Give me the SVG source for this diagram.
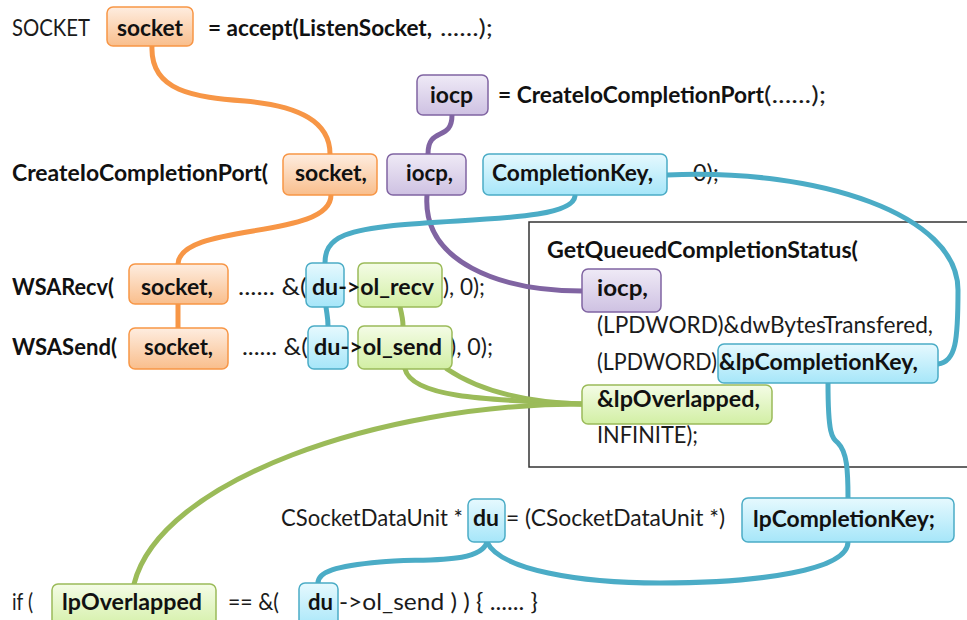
<svg xmlns="http://www.w3.org/2000/svg" width="967" height="620" viewBox="0 0 967 620">
<defs>
<linearGradient id="gO" x1="0" y1="0" x2="0" y2="1"><stop offset="0" stop-color="#FEEDE0"/><stop offset="1" stop-color="#F9BE8C"/></linearGradient>
<linearGradient id="gP" x1="0" y1="0" x2="0" y2="1"><stop offset="0" stop-color="#EFEAF6"/><stop offset="1" stop-color="#CEC1E2"/></linearGradient>
<linearGradient id="gC" x1="0" y1="0" x2="0" y2="1"><stop offset="0" stop-color="#E6F9FE"/><stop offset="1" stop-color="#A6E6F9"/></linearGradient>
<linearGradient id="gG" x1="0" y1="0" x2="0" y2="1"><stop offset="0" stop-color="#F4FCE6"/><stop offset="1" stop-color="#D2EFA4"/></linearGradient>
</defs>
<style>
text{font-family:Lato,"Open Sans","Liberation Sans",sans-serif;font-size:23px;fill:#1b1b1b}
.b{font-weight:700;fill:#111}
.o{fill:url(#gO);stroke:#F79646;stroke-width:1.5}
.p{fill:url(#gP);stroke:#8064A2;stroke-width:1.5}
.c{fill:url(#gC);stroke:#4BACC6;stroke-width:1.5}
.g{fill:url(#gG);stroke:#9BBB59;stroke-width:1.5}
.lo,.lp,.lc,.lg{fill:none;stroke-width:5;stroke-linecap:round}
.lo{stroke:#F79646}.lp{stroke:#8064A2}.lc{stroke:#4BACC6}.lg{stroke:#9BBB59}
</style>
<rect id="gqcs-frame" x="529" y="222" width="450" height="245" fill="none" stroke="#333" stroke-width="1.5"/>
<g id="code-text">
<text x="12" y="36" textLength="78" lengthAdjust="spacingAndGlyphs">SOCKET</text>
<text class="b" x="208" y="36" textLength="224" lengthAdjust="spacingAndGlyphs">= accept(ListenSocket,</text>
<text x="440" y="36" textLength="53" lengthAdjust="spacingAndGlyphs">......);</text>
<text class="b" x="498" y="103" textLength="266" lengthAdjust="spacingAndGlyphs">= CreateIoCompletionPort</text>
<text x="764" y="103" textLength="62" lengthAdjust="spacingAndGlyphs">(......);</text>
<text class="b" x="12" y="181" textLength="256" lengthAdjust="spacingAndGlyphs">CreateIoCompletionPort(</text>
<text x="693" y="181" textLength="26" lengthAdjust="spacingAndGlyphs">0);</text>
<text class="b" x="12" y="295" textLength="102" lengthAdjust="spacingAndGlyphs">WSARecv(</text>
<text x="238" y="295" textLength="69" lengthAdjust="spacingAndGlyphs">...... &amp;(</text>
<text x="443" y="295" textLength="42" lengthAdjust="spacingAndGlyphs">), 0);</text>
<text class="b" x="12" y="355" textLength="105" lengthAdjust="spacingAndGlyphs">WSASend(</text>
<text x="242" y="355" textLength="66" lengthAdjust="spacingAndGlyphs">...... &amp;(</text>
<text x="450" y="355" textLength="43" lengthAdjust="spacingAndGlyphs">), 0);</text>
<text class="b" x="547" y="258" textLength="311" lengthAdjust="spacingAndGlyphs">GetQueuedCompletionStatus(</text>
<text x="597" y="333" textLength="336" lengthAdjust="spacingAndGlyphs">(LPDWORD)&amp;dwBytesTransfered,</text>
<text x="597" y="370" textLength="120" lengthAdjust="spacingAndGlyphs">(LPDWORD)</text>
<text x="597" y="443" textLength="101" lengthAdjust="spacingAndGlyphs">INFINITE);</text>
<text x="281" y="526" textLength="182" lengthAdjust="spacingAndGlyphs">CSocketDataUnit *</text>
<text x="506" y="526" textLength="219" lengthAdjust="spacingAndGlyphs">= (CSocketDataUnit *)</text>
<text x="12" y="610" textLength="21" lengthAdjust="spacingAndGlyphs">if (</text>
<text x="228" y="610" textLength="51" lengthAdjust="spacingAndGlyphs">== &amp;(</text>
<text x="339" y="610" textLength="199" lengthAdjust="spacingAndGlyphs">-&gt;ol_send ) ) { ...... }</text>
</g>
<g id="connectors">
<path class="lo" d="M152,46 C150,92 195,97 245,101 C300,106 330,122 330,154"/>
<path class="lo" d="M331,195 C331,240 180,222 178,264"/>
<path class="lo" d="M178,304 L178,328"/>
<path class="lp" d="M452,115 C452,142 428,126 428,154"/>
<path class="lp" d="M427,195 C422,262 500,291 582,291"/>
<path class="lc" d="M575,196 C572,228 400,214 345,235 C328,242 325,252 325,263"/>
<path class="lc" d="M326,307 C327,315 328,318 328,326"/>
<path class="lc" d="M667,175 C820,168 958,215 958,290 C958,340 956,362 938,364"/>
<path class="lc" d="M828,383 C828,435 832,438 838,443 C847,452 848,470 848,498"/>
<path class="lc" d="M487,542 C500,570 580,583 660,583 C760,583 848,570 848,542"/>
<path class="lc" d="M487,542 C480,565 420,558 380,562 C335,566 318,572 318,583"/>
<path class="lg" d="M400,307 C402,315 403,320 403,326"/>
<path class="lg" d="M405,369 C412,398 490,400 582,404"/>
<path class="lg" d="M447,369 C475,388 520,402 582,404"/>
<path class="lg" d="M582,404 C380,404 160,480 134,584"/>
</g>
<g id="socket0"><rect class="o" x="107" y="7" width="86" height="39" rx="6"/><text class="b" x="117" y="36" textLength="66" lengthAdjust="spacingAndGlyphs">socket</text></g>
<g id="iocp0"><rect class="p" x="417" y="75" width="71" height="40" rx="6"/><text class="b" x="430" y="103" textLength="43" lengthAdjust="spacingAndGlyphs">iocp</text></g>
<g id="socket1"><rect class="o" x="283" y="154" width="94" height="41" rx="6"/><text class="b" x="295" y="181" textLength="72" lengthAdjust="spacingAndGlyphs">socket,</text></g>
<g id="iocp1"><rect class="p" x="387" y="154" width="79" height="41" rx="6"/><text class="b" x="406" y="181" textLength="47" lengthAdjust="spacingAndGlyphs">iocp,</text></g>
<g id="completionkey1"><rect class="c" x="483" y="154" width="184" height="41" rx="6"/><text class="b" x="492" y="181" textLength="161" lengthAdjust="spacingAndGlyphs">CompletionKey,</text></g>
<g id="socket2"><rect class="o" x="129" y="264" width="99" height="40" rx="6"/><text class="b" x="141" y="295" textLength="72" lengthAdjust="spacingAndGlyphs">socket,</text></g>
<g id="du2"><rect class="c" x="306" y="263" width="38" height="44" rx="6"/></g>
<g id="olrecv"><rect class="g" x="358" y="263" width="84" height="44" rx="6"/></g>
<text class="b" x="312" y="295" textLength="122" lengthAdjust="spacingAndGlyphs">du-&gt;ol_recv</text>
<g id="socket3"><rect class="o" x="129" y="328" width="99" height="41" rx="6"/><text class="b" x="144" y="355" textLength="69" lengthAdjust="spacingAndGlyphs">socket,</text></g>
<g id="du3"><rect class="c" x="308" y="326" width="40" height="43" rx="6"/></g>
<g id="olsend"><rect class="g" x="358" y="326" width="94" height="43" rx="6"/></g>
<text class="b" x="314" y="355" textLength="128" lengthAdjust="spacingAndGlyphs">du-&gt;ol_send</text>
<g id="gq-iocp"><rect class="p" x="582" y="269" width="79" height="43" rx="6"/><text class="b" x="597" y="296" textLength="51" lengthAdjust="spacingAndGlyphs">iocp,</text></g>
<g id="gq-completionkey"><rect class="c" x="718" y="344" width="220" height="39" rx="6"/><text class="b" x="719" y="370" textLength="199" lengthAdjust="spacingAndGlyphs">&amp;lpCompletionKey,</text></g>
<g id="gq-overlapped"><rect class="g" x="582" y="385" width="190" height="39" rx="6"/><text class="b" x="597" y="407" textLength="163" lengthAdjust="spacingAndGlyphs">&amp;lpOverlapped,</text></g>
<g id="du4"><rect class="c" x="468" y="499" width="37" height="43" rx="6"/><text class="b" x="473" y="526" textLength="26" lengthAdjust="spacingAndGlyphs">du</text></g>
<g id="completionkey5"><rect class="c" x="742" y="498" width="212" height="44" rx="6"/><text class="b" x="753" y="527" textLength="182" lengthAdjust="spacingAndGlyphs">lpCompletionKey;</text></g>
<g id="if-overlapped"><rect class="g" x="52" y="584" width="164" height="46" rx="6"/><text class="b" x="62" y="610" textLength="140" lengthAdjust="spacingAndGlyphs">lpOverlapped</text></g>
<g id="du6"><rect class="c" x="299" y="583" width="39" height="46" rx="6"/><text class="b" x="308" y="610" textLength="25" lengthAdjust="spacingAndGlyphs">du</text></g>
</svg>
